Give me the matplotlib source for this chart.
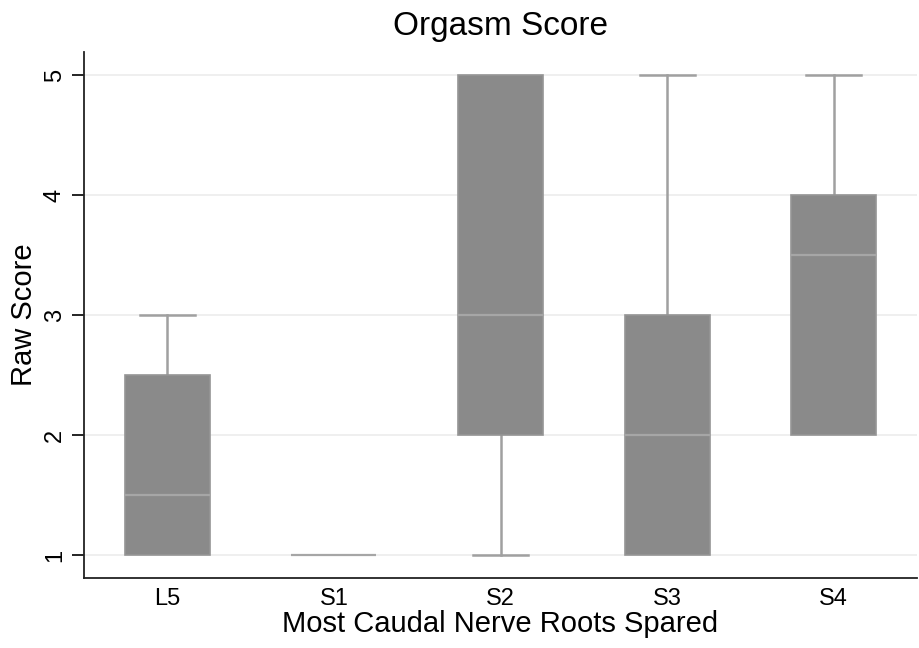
import matplotlib
matplotlib.use("Agg")
import matplotlib.pyplot as plt

categories = ["L5", "S1", "S2", "S3", "S4"]
whislo = [1, 1, 1, 1, 2]
q1 = [1, 1, 2, 1, 2]
med = [1.5, 1, 3, 2, 3.5]
q3 = [2.5, 1, 5, 3, 4]
whishi = [3, 1, 5, 5, 5]
yticks = [1, 2, 3, 4, 5]

plt.rcParams['font.family'] = ['Liberation Sans', 'DejaVu Sans']

fig = plt.figure(figsize=(9.19, 6.48), dpi=100)
ax = fig.add_axes([84/919, 70/648, 833/919, 526/648])

stats = []
for i, c in enumerate(categories):
    stats.append(dict(label=c, whislo=whislo[i], q1=q1[i], med=med[i], q3=q3[i], whishi=whishi[i], fliers=[]))

positions = list(range(1, len(categories) + 1))
res = ax.bxp(stats, positions=positions, widths=0.51, patch_artist=True, showfliers=False,
             boxprops=dict(facecolor='#8a8a8a', edgecolor='#959595', linewidth=1.2),
             medianprops=dict(color='#a6a6a6', linewidth=1.6),
             whiskerprops=dict(color='#a0a0a0', linewidth=1.8),
             capprops=dict(color='#a0a0a0', linewidth=1.8),
             capwidths=0.33)
for b in res['boxes']:
    b.set_zorder(4)
for m in res['medians']:
    m.set_zorder(5)
for w in res['whiskers'] + res['caps']:
    w.set_zorder(3)
# hide zero-length whiskers and their caps (Stata draws nothing there)
for i in range(len(categories)):
    if whislo[i] == q1[i]:
        res['whiskers'][2 * i].set_visible(False)
        res['caps'][2 * i].set_visible(False)
    if whishi[i] == q3[i]:
        res['whiskers'][2 * i + 1].set_visible(False)
        res['caps'][2 * i + 1].set_visible(False)

ax.set_xlim(0.5, 5.5)
ax.set_ylim(0.808, 5.192)
ax.set_yticks(yticks)
ax.set_yticklabels([str(t) for t in yticks], rotation=90, va='center', fontsize=17)
ax.tick_params(axis='y', length=9, width=1.2, pad=4)
ax.tick_params(axis='x', length=0, pad=7, labelsize=17)
ax.grid(axis='y', color='#ececec', linewidth=1.2, zorder=0)
ax.set_axisbelow(True)
for s in ['top', 'right']:
    ax.spines[s].set_visible(False)
for s in ['left', 'bottom']:
    ax.spines[s].set_linewidth(1.3)
    ax.spines[s].set_color('#222222')

ax.set_title("Orgasm Score", fontsize=24, pad=12)
ax.set_xlabel("Most Caudal Nerve Roots Spared", fontsize=21, labelpad=0)
ax.set_ylabel("Raw Score", fontsize=21, labelpad=4)

fig.savefig("out.png", dpi=100, facecolor='white')
